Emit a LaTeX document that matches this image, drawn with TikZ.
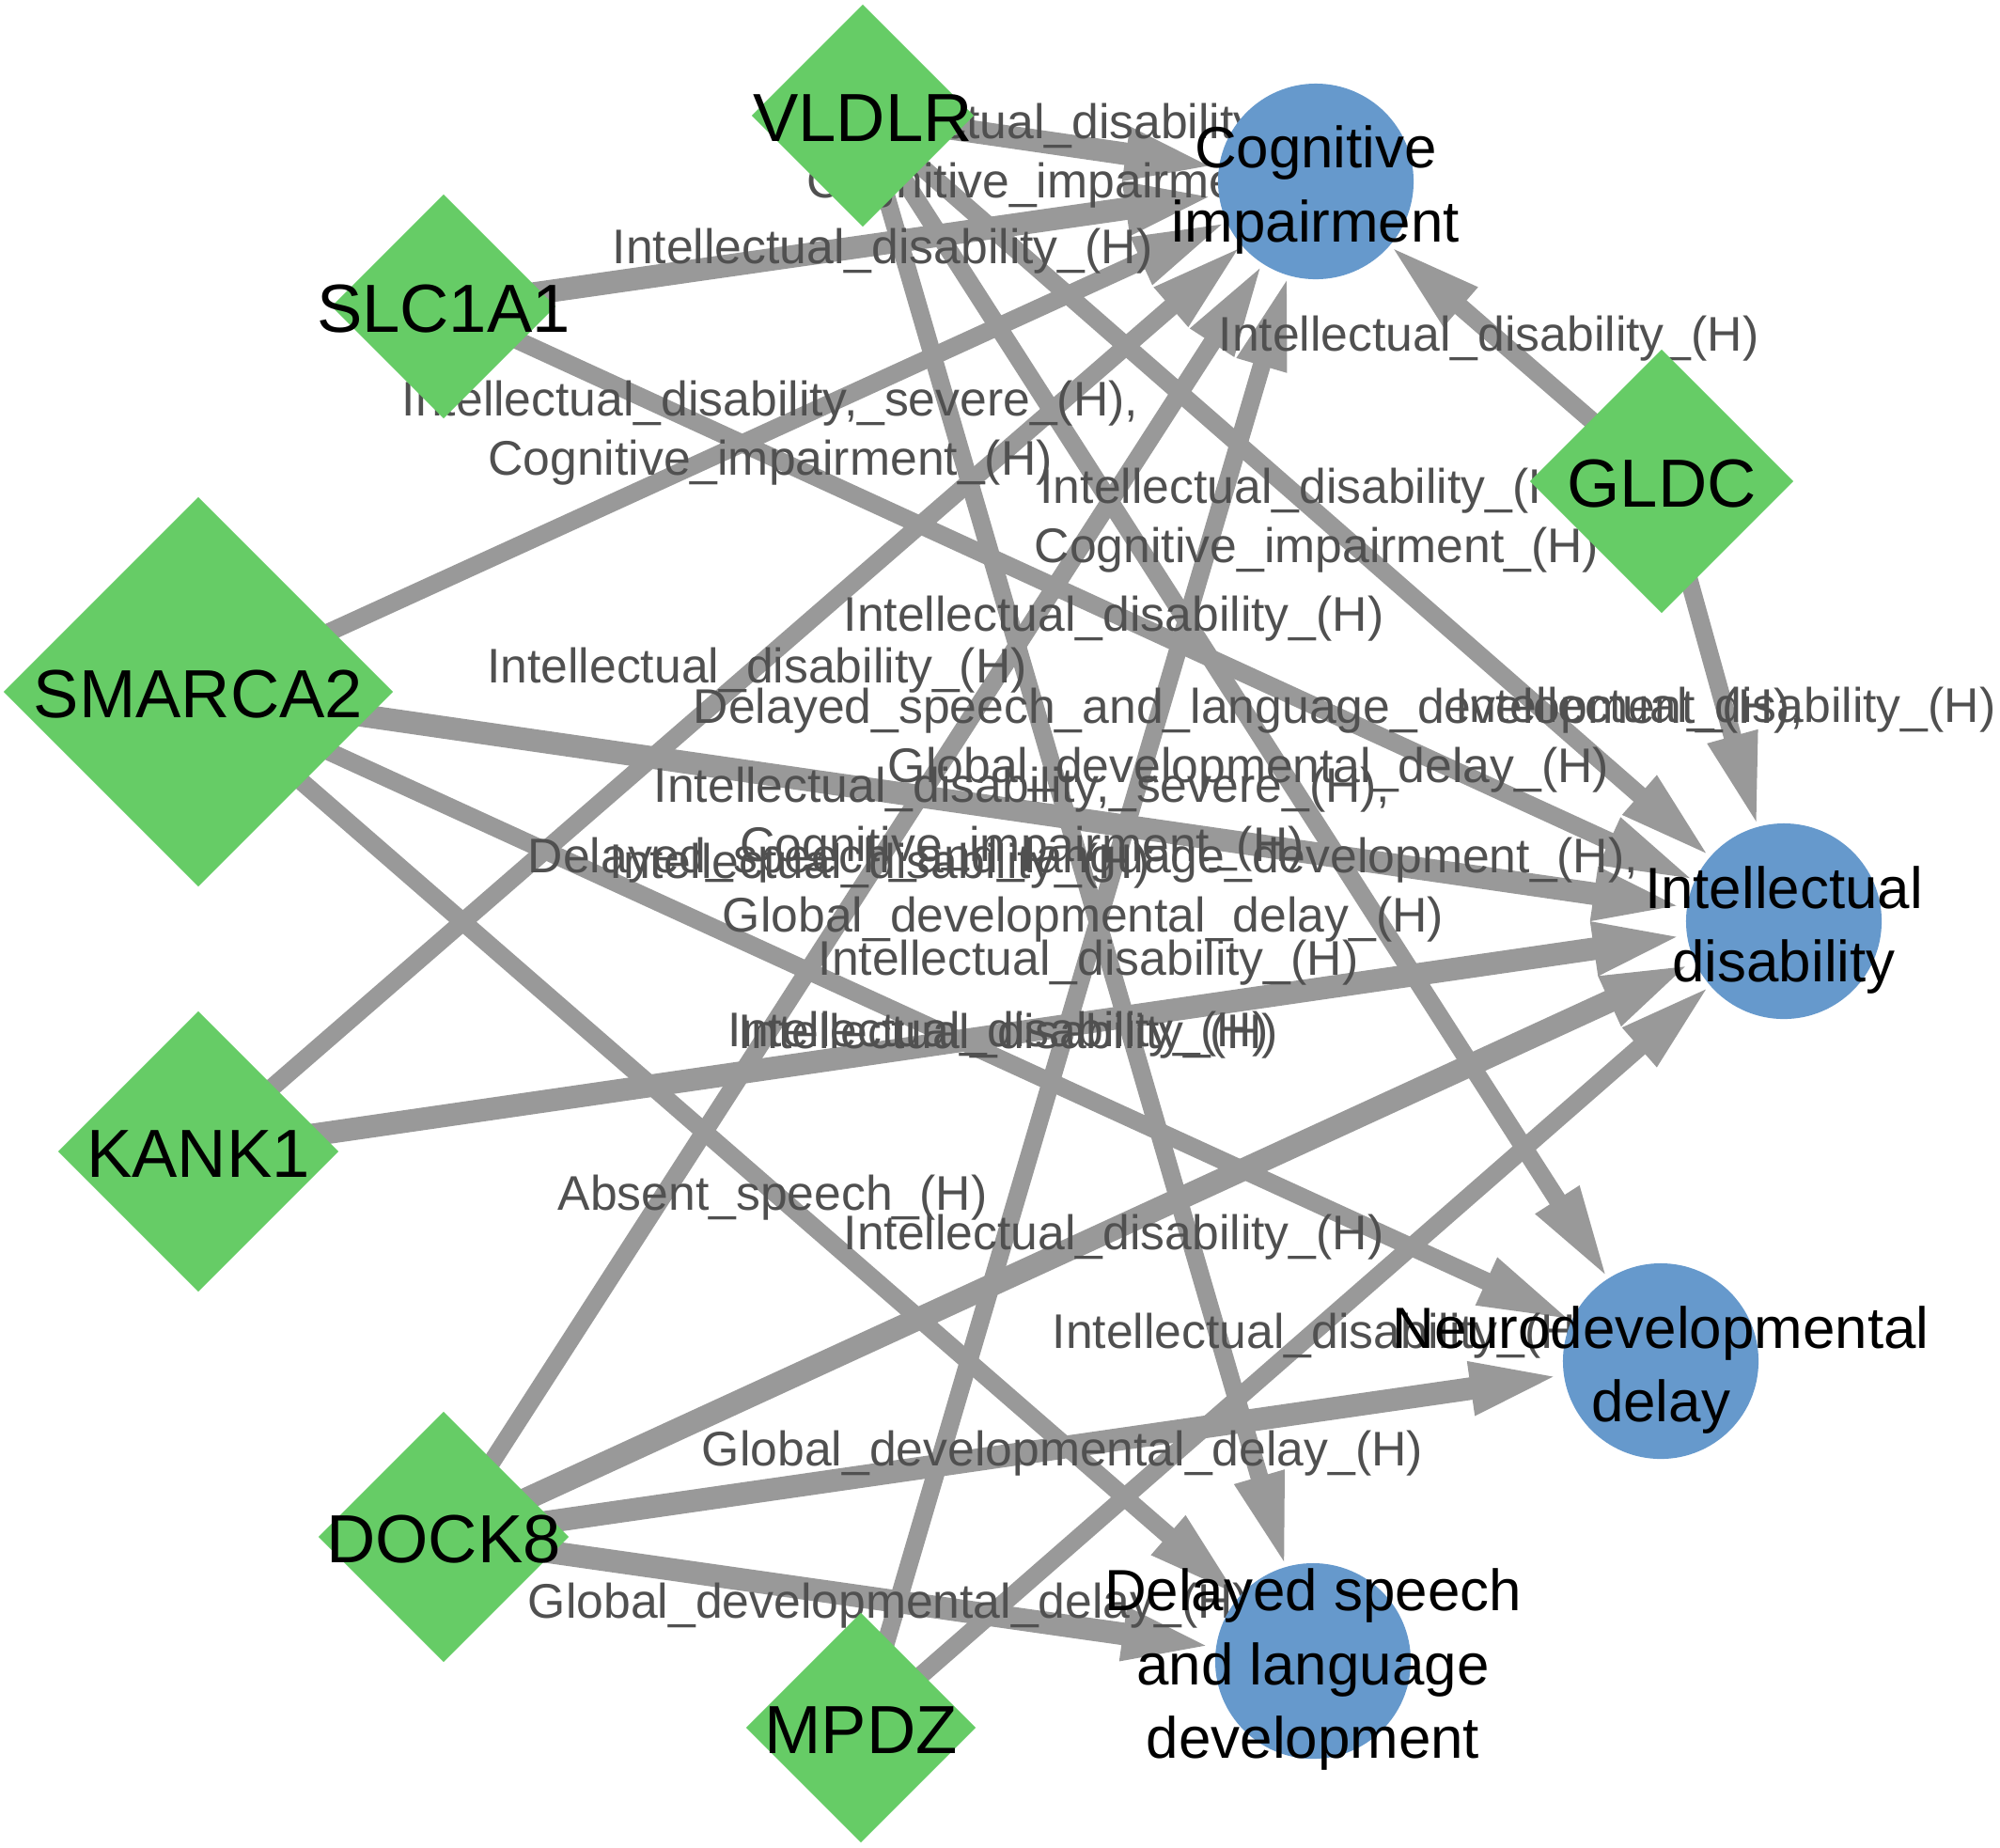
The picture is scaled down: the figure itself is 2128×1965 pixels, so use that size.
\documentclass[tikz,border=0pt]{standalone}
\usepackage{fontspec}
\setmainfont{Liberation Sans}
\usetikzlibrary{shapes.geometric,arrows.meta}

\definecolor{genegreen}{HTML}{66CC66}
\definecolor{phenoblue}{HTML}{6699CC}
\definecolor{edgegray}{HTML}{999999}
\definecolor{labelgray}{HTML}{505050}

\pgfdeclarelayer{edgelayer}
\pgfdeclarelayer{labellayer}
\pgfsetlayers{edgelayer,labellayer,main}

\tikzset{
  gene/.style={diamond, fill=genegreen, inner sep=0pt, outer sep=0pt},
  genetext/.style={font=\fontsize{20.6}{24}\selectfont, inner sep=0pt, yshift=-0.03cm},
  pheno/.style={circle, fill=phenoblue, minimum size=2.08cm, inner sep=0pt, outer sep=0pt},
  phenotext/.style={align=center, font=\fontsize{17.6}{22.2}\selectfont, inner sep=0pt, yshift=-0.09cm},
  link/.style={draw=edgegray, line width=0.19cm, -{Triangle[length=1cm,width=0.5cm]}},
  heavylink/.style={link, line width=0.24cm},
  elabel/.style={text=labelgray, align=center, font=\fontsize{14.7}{17.9}\selectfont, inner sep=0pt},
}

\begin{document}
\begin{tikzpicture}[x=0.01cm, y=-0.01cm]
  \useasboundingbox (0,0) rectangle (2128,1965);

  % genes
  \node[gene, minimum size=2.36cm] (VLDLR) at (918,123) {};
  \node[gene, minimum size=2.38cm] (SLC1A1) at (472,326) {};
  \node[gene, minimum size=4.14cm] (SMARCA2) at (211,736) {};
  \node[gene, minimum size=2.98cm] (KANK1) at (211,1225) {};
  \node[gene, minimum size=2.66cm] (DOCK8) at (472,1635) {};
  \node[gene, minimum size=2.44cm] (MPDZ) at (916,1838) {};
  \node[gene, minimum size=2.80cm] (GLDC) at (1768,512) {};

  \node[genetext] (VLDLRtxt) at (VLDLR) {VLDLR};
  \node[genetext] (SLC1A1txt) at (SLC1A1) {SLC1A1};
  \node[genetext] (SMARCA2txt) at (SMARCA2) {SMARCA2};
  \node[genetext] (KANK1txt) at (KANK1) {KANK1};
  \node[genetext] (DOCK8txt) at (DOCK8) {DOCK8};
  \node[genetext] (MPDZtxt) at (MPDZ) {MPDZ};
  \node[genetext] (GLDCtxt) at (GLDC) {GLDC};

  % phenotypes
  \node[pheno] (CI) at (1400,193) {};
  \node[pheno] (ID) at (1898,980) {};
  \node[pheno] (NDD) at (1767,1448) {};
  \node[pheno] (DSLD) at (1397,1767) {};

  \node[phenotext] (CItxt) at (CI) {Cognitive\\impairment};
  \node[phenotext] (IDtxt) at (ID) {Intellectual\\disability};
  \node[phenotext] (NDDtxt) at (NDD) {Neurodevelopmental\\delay};
  \node[phenotext] (DSLDtxt) at (DSLD) {Delayed speech\\and language\\development};

  % connectors
  \begin{pgfonlayer}{edgelayer}
    \draw[heavylink] (VLDLR.center) -- (CI);
    \draw[link] (VLDLR.center) -- (ID);
    \draw[link] (VLDLR.center) -- (NDD);
    \draw[link] (VLDLR.center) -- (DSLD);
    \draw[heavylink] (SLC1A1.center) -- (CI);
    \draw[link] (SLC1A1.center) -- (ID);
    \draw[link] (SMARCA2.center) -- (CI);
    \draw[heavylink] (SMARCA2.center) -- (ID);
    \draw[link] (SMARCA2.center) -- (NDD);
    \draw[link] (SMARCA2.center) -- (DSLD);
    \draw[link] (KANK1.center) -- (CI);
    \draw[heavylink] (KANK1.center) -- (ID);
    \draw[link] (DOCK8.center) -- (CI);
    \draw[heavylink] (DOCK8.center) -- (ID);
    \draw[heavylink] (DOCK8.center) -- (NDD);
    \draw[heavylink] (DOCK8.center) -- (DSLD);
    \draw[link] (MPDZ.center) -- (CI);
    \draw[link] (MPDZ.center) -- (ID);
    \draw[link] (GLDC.center) -- (CI);
    \draw[link] (GLDC.center) -- (ID);
  \end{pgfonlayer}

  % connector labels
  \begin{pgfonlayer}{labellayer}
    \path (VLDLR.center) -- (CI.center) node[midway, elabel, shift={(0,8)}] (l1) {Intellectual\_disability\_(H),\\Cognitive\_impairment\_(H)};
    \path (VLDLR.center) -- (ID.center) node[midway, elabel, shift={(-7,2)}] (l2) {Intellectual\_disability\_(H),\\Cognitive\_impairment\_(H)};
    \path (VLDLR.center) -- (NDD.center) node[midway, elabel, shift={(-14,2)}] (l3) {Delayed\_speech\_and\_language\_development\_(H),\\Global\_developmental\_delay\_(H)};
    \path (VLDLR.center) -- (DSLD.center) node[midway, elabel, shift={(-5,2)}] (l4) {Delayed\_speech\_and\_language\_development\_(H),\\Global\_developmental\_delay\_(H)};
    \path (SLC1A1.center) -- (CI.center) node[midway, elabel, shift={(3,8)}] (l5) {Intellectual\_disability\_(H)};
    \path (SLC1A1.center) -- (ID.center) node[midway, elabel, shift={(0,5)}] (l6) {Intellectual\_disability\_(H)};
    \path (SMARCA2.center) -- (CI.center) node[midway, elabel, shift={(14,-4)}] (l7) {Intellectual\_disability,\_severe\_(H),\\Cognitive\_impairment\_(H)};
    \path (SMARCA2.center) -- (ID.center) node[midway, elabel, shift={(33,14)}] (l8) {Intellectual\_disability,\_severe\_(H),\\Cognitive\_impairment\_(H)};
    \path (SMARCA2.center) -- (NDD.center) node[midway, elabel, shift={(73,8)}] (l9) {Intellectual\_disability\_(H)};
    \path (SMARCA2.center) -- (DSLD.center) node[midway, elabel, shift={(18,23)}] (l10) {Absent\_speech\_(H)};
    \path (KANK1.center) -- (CI.center) node[midway, elabel, shift={(0,4)}] (l11) {Intellectual\_disability\_(H)};
    \path (KANK1.center) -- (ID.center) node[midway, elabel, shift={(18,0)}] (l12) {Intellectual\_disability\_(H)};
    \path (DOCK8.center) -- (CI.center) node[midway, elabel, shift={(0,7)}] (l13) {Intellectual\_disability\_(H)};
    \path (DOCK8.center) -- (ID.center) node[midway, elabel, shift={(0,9)}] (l14) {Intellectual\_disability\_(H)};
    \path (DOCK8.center) -- (NDD.center) node[midway, elabel, shift={(11,5)}] (l15) {Global\_developmental\_delay\_(H)};
    \path (DOCK8.center) -- (DSLD.center) node[midway, elabel, shift={(11,7)}] (l16) {Global\_developmental\_delay\_(H)};
    \path (MPDZ.center) -- (CI.center) node[midway, elabel, shift={(0,9)}] (l17) {Intellectual\_disability\_(H)};
    \path (MPDZ.center) -- (ID.center) node[midway, elabel, shift={(0,12)}] (l18) {Intellectual\_disability\_(H)};
    \path (GLDC.center) -- (CI.center) node[midway, elabel, shift={(0,8)}] (l19) {Intellectual\_disability\_(H)};
    \path (GLDC.center) -- (ID.center) node[midway, elabel, shift={(3,9)}] (l20) {Intellectual\_disability\_(H)};
  \end{pgfonlayer}
\end{tikzpicture}
\end{document}
